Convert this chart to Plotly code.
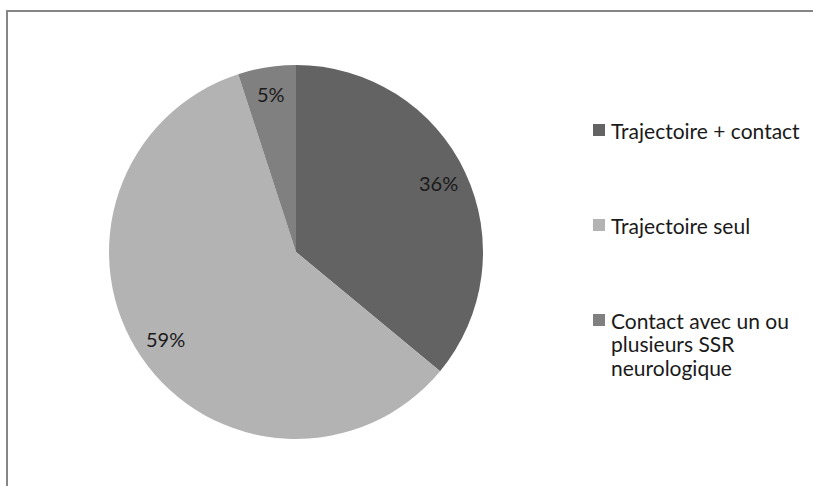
import numpy as np
import plotly.graph_objects as go

labels = ["Trajectoire + contact", "Trajectoire seul", "Contact avec un ou plusieurs SSR neurologique"]
legend_lines = [["Trajectoire + contact"], ["Trajectoire seul"], ["Contact avec un ou", "plusieurs SSR", "neurologique"]]
values = [36, 59, 5]
colors = ["#636363", "#b3b3b3", "#808080"]

W, H = 813, 486
cx, cy, r = 296, 252, 187
FONT = "Lato"

def px(x):
    return x / W

def py(y):
    return 1 - y / H

fig = go.Figure(go.Pie(
    labels=labels,
    values=values,
    sort=False,
    direction="clockwise",
    rotation=0,
    marker=dict(colors=colors, line=dict(width=0)),
    textinfo="none",
    domain=dict(x=[px(cx - r), px(cx + r)], y=[py(cy + r), py(cy - r)]),
    showlegend=False,
    hoverinfo="label+percent",
))

shapes = [dict(type="rect", xref="paper", yref="paper",
               x0=px(7), x1=1.05, y0=-0.05, y1=py(11),
               line=dict(color="#868686", width=2), fillcolor="rgba(0,0,0,0)")]
annotations = []

# percentage labels placed along each slice's mid-angle
vals = np.array(values, dtype=float)
frac = vals / vals.sum()
mids = np.cumsum(frac) - frac / 2
for f, m in zip(frac, mids):
    ang = 2 * np.pi * m
    lx = cx + 0.845 * r * np.sin(ang)
    ly = cy - 0.845 * r * np.cos(ang) - 2
    annotations.append(dict(xref="paper", yref="paper", x=px(lx), y=py(ly),
                            xanchor="center", yanchor="middle",
                            text=f"{round(f * 100):.0f}%", showarrow=False,
                            font=dict(family=FONT, size=20, color="#1a1a1a")))

# legend
centers = [130, 225, 320]
line_h = 23.5
for lines, col, c in zip(legend_lines, colors, centers):
    shapes.append(dict(type="rect", xref="paper", yref="paper",
                       x0=px(593), x1=px(605), y0=py(c + 6), y1=py(c - 6),
                       line=dict(width=0), fillcolor=col))
    for i, t in enumerate(lines):
        annotations.append(dict(xref="paper", yref="paper", x=px(609), y=py(c + i * line_h),
                                xanchor="left", yanchor="middle", align="left",
                                text=t, showarrow=False,
                                font=dict(family=FONT, size=21, color="#1a1a1a")))

fig.update_layout(
    width=W, height=H,
    margin=dict(l=0, r=0, t=0, b=0),
    paper_bgcolor="white",
    plot_bgcolor="white",
    shapes=shapes,
    annotations=annotations,
)

fig.write_html("out.html", config={"displayModeBar": False},
               post_script="document.body.style.margin='0';document.body.style.overflow='hidden';")
